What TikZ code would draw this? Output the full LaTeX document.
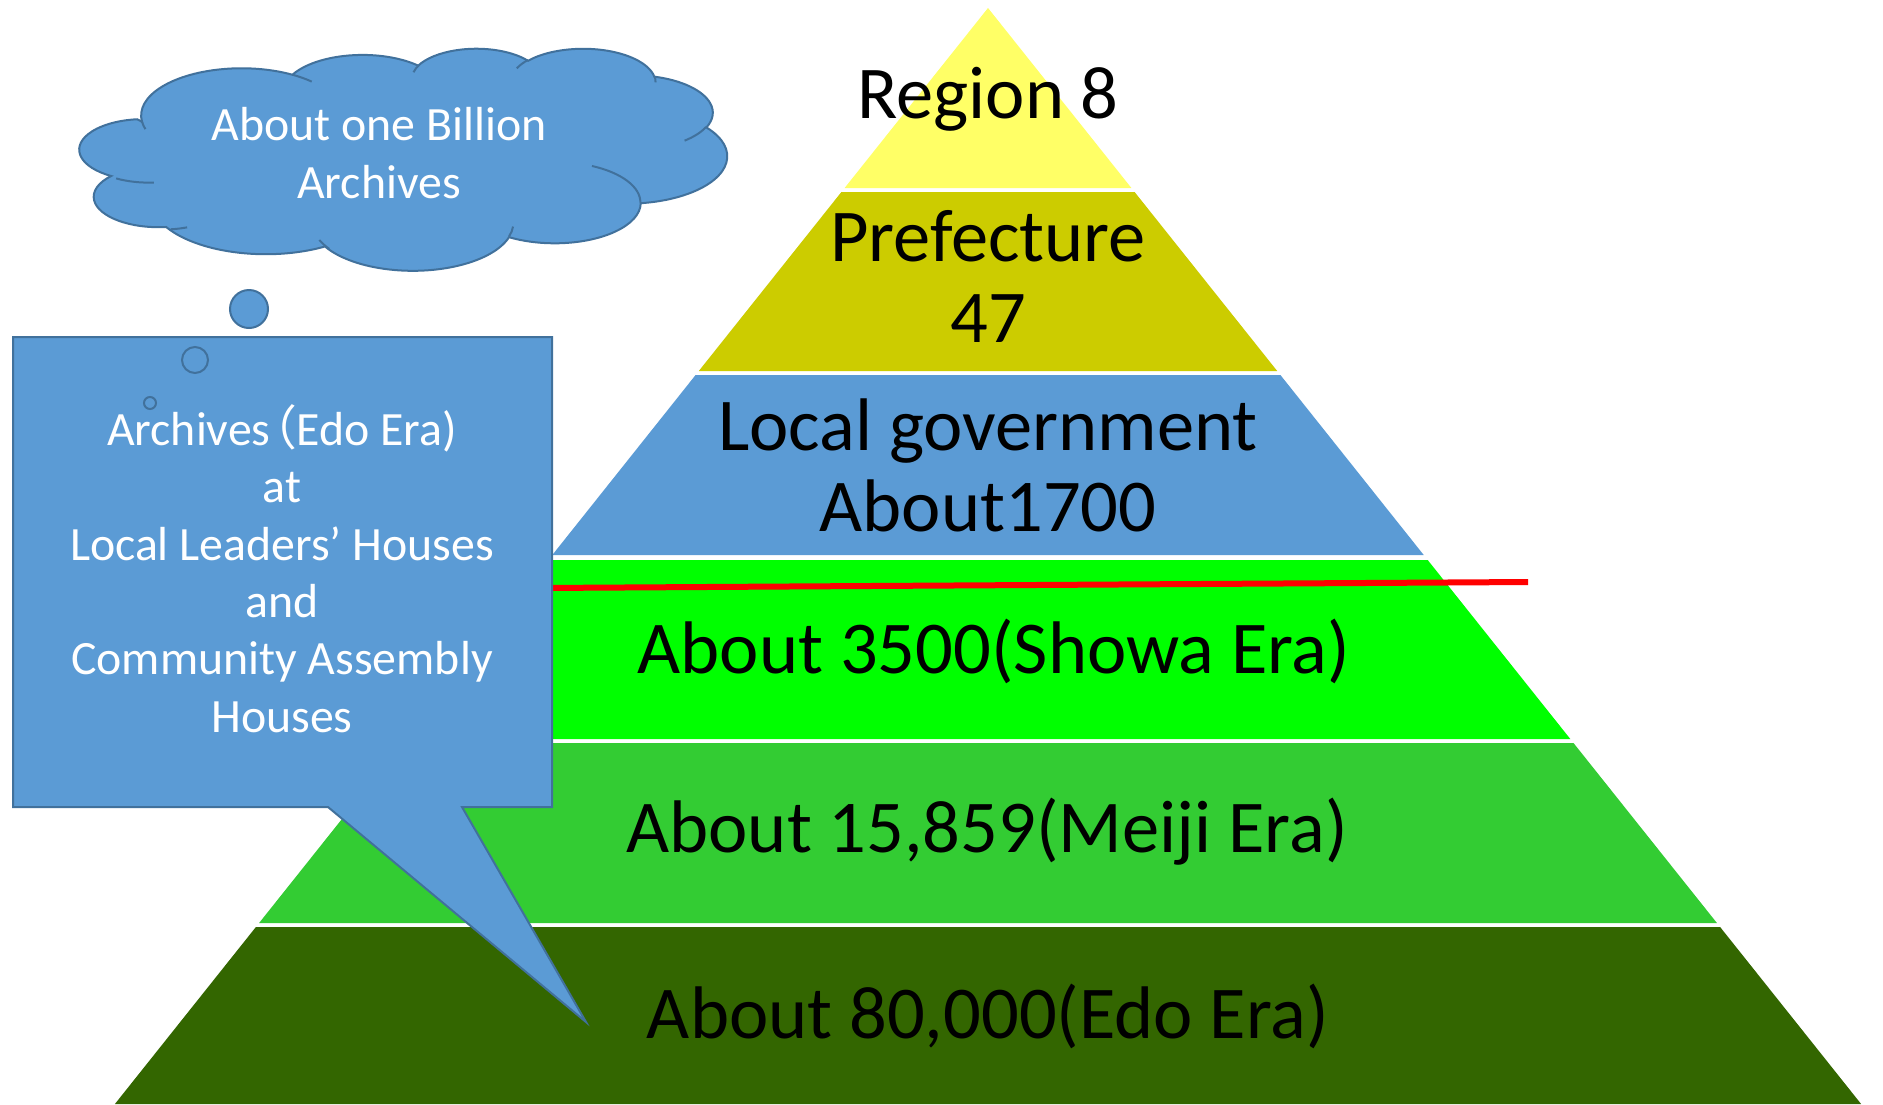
\documentclass[tikz,border=0pt]{standalone}
\usepackage{fontspec}
\setmainfont{Carlito}
\newfontfamily\cjkfont{Noto Sans CJK JP}
\definecolor{layer_yellow}{HTML}{FFFF66}
\definecolor{layer_olive}{HTML}{CCCC00}
\definecolor{layer_blue}{HTML}{5B9BD5}
\definecolor{layer_green}{HTML}{00FF00}
\definecolor{layer_midgreen}{HTML}{33CC33}
\definecolor{layer_dark}{HTML}{336600}
\definecolor{note_fill}{HTML}{5B9BD5}
\definecolor{note_edge}{HTML}{41719C}

\begin{document}
\begin{tikzpicture}[x=0.1mm,y=-0.1mm,
		layer_text/.style={font=\fontsize{21.2}{23}\selectfont,align=center,text=black,inner sep=0pt},
		note_text/.style={font=\fontsize{13.6}{16.3}\selectfont,align=center,text=white,inner sep=0pt},
		note_style/.style={draw=note_edge,fill=note_fill,line width=0.2mm},
		bubble_style/.style={circle,note_style,inner sep=0pt},
		oo_arc/.style n args={4}{x radius=#1,y radius=#2,
			start angle={atan2((#1)*sin(#3),(#2)*cos(#3))},
			delta angle={mod(atan2((#1)*sin((#3)+(#4)),(#2)*cos((#3)+(#4)))-atan2((#1)*sin(#3),(#2)*cos(#3))+720,360)}}]

		\useasboundingbox[fill=white] (0,0) rectangle (1883,1104);

		% pyramid layers
		\fill[layer_yellow] (988,8) -- (1131.4,188) -- (844.6,188) -- cycle;
		\fill[layer_olive] (841.4,192) -- (1134.6,192) -- (1277.2,371) -- (698.8,371) -- cycle;
		\fill[layer_blue] (695.6,375) -- (1280.4,375) -- (1423.7,555) -- (552.3,555) -- cycle;
		\fill[layer_green] (548.3,560) -- (1427.7,560) -- (1570.3,739) -- (405.7,739) -- cycle;
		\fill[layer_midgreen] (402.5,743) -- (1573.5,743) -- (1716.9,923) -- (259.1,923) -- cycle;
		\fill[layer_dark] (255.9,927) -- (1720.1,927) -- (1861.1,1104) -- (114.9,1104) -- cycle;

		% red line
		\coordinate (red_a) at (540,588);
		\coordinate (red_b) at (1528,582);
		\draw[red,line width=0.6mm] (red_a) -- (red_b);

		% callout
		\draw[note_style] (13,337) -- (552,337) -- (552,807) -- (462,807) -- (586,1022)
			-- (328,807) -- (13,807) -- cycle;

		\node[bubble_style,minimum size=3.8mm] (b1) at (249,309) {};
		\node[bubble_style,minimum size=2.6mm] (b2) at (195,360) {};
		\node[bubble_style,minimum size=1.2mm] (b3) at (150,403) {};

		% cloud
		\begin{scope}[shift={(84,48)},xscale=643/432,yscale=222/432]
		\draw[note_style] (39.00,143.70)
			arc[oo_arc={67.53}{91.90}{-190.4875}{123.7805}]
			arc[oo_arc={53.33}{72.67}{-144.1024}{89.9452}]
			arc[oo_arc={43.65}{59.45}{-145.8079}{99.7230}]
			arc[oo_arc={48.57}{65.95}{-130.9861}{117.2417}]
			arc[oo_arc={53.33}{72.73}{-78.7089}{109.0269}]
			arc[oo_arc={67.75}{92.20}{-46.2673}{130.2690}]
			arc[oo_arc={57.85}{78.67}{0.6250}{114.0333}]
			arc[oo_arc={67.52}{92.15}{22.4635}{120.3136}]
			arc[oo_arc={77.20}{105.43}{66.2426}{75.7110}]
			arc[oo_arc={43.60}{59.18}{-274.9421}{146.7356}]
			arc[oo_arc={43.45}{59.45}{-246.8285}{152.5189}] -- cycle;
		\draw[draw=note_edge,line width=0.2mm]
			(46.93,261.77) arc[oo_arc={43.45}{59.45}{86.7420}{26.4295}]
			(69.28,348.99) arc[oo_arc={43.60}{59.18}{73.6105}{11.4475}]
			(164.78,390.90) arc[oo_arc={67.52}{92.15}{137.6242}{14.0811}]
			(288.27,347.51) arc[oo_arc={67.52}{92.15}{6.4533}{15.9984}]
			(341.29,229.54) arc[oo_arc={57.85}{78.67}{-70.2924}{70.9174}]
			(417.98,153.54) arc[oo_arc={53.33}{72.73}{30.3180}{27.7515}]
			(383.24,54.26) arc[oo_arc={48.57}{65.95}{-13.7443}{14.8589}]
			(290.78,39.52) arc[oo_arc={48.57}{65.95}{-149.1815}{18.1954}]
			(221.41,47.20) arc[oo_arc={43.65}{59.45}{-163.4943}{17.6864}]
			(140.00,51.92) arc[oo_arc={67.53}{91.90}{-66.7070}{12.3194}]
			(41.27,157.89) arc[oo_arc={67.53}{91.90}{157.6544}{11.8582}];
		\end{scope}

		% texts
		\node[layer_text,anchor=base] (t1) at (988,118) {Region 8};
		\node[layer_text,anchor=base] (t2) at (988,342) {Prefecture\\47};
		\node[layer_text,anchor=base] (t3) at (988,531) {Local government\\About1700};
		\node[layer_text,anchor=base] (t4) at (994,673) {About 3500(Showa Era)};
		\node[layer_text,anchor=base] (t5) at (987,852) {About 15,859(Meiji Era)};
		\node[layer_text,anchor=base] (t6) at (988,1038) {About 80,000(Edo Era)};

		\node[note_text,anchor=base] (cloud_text) at (379,198) {About one Billion\\Archives};
		\node[note_text,anchor=base] (note_text) at (282,732)
			{Archives{\cjkfont\kern-0.45em（}Edo Era)\\at\\Local Leaders’ Houses\\and\\Community Assembly\\Houses};

		\end{tikzpicture}
\end{document}
